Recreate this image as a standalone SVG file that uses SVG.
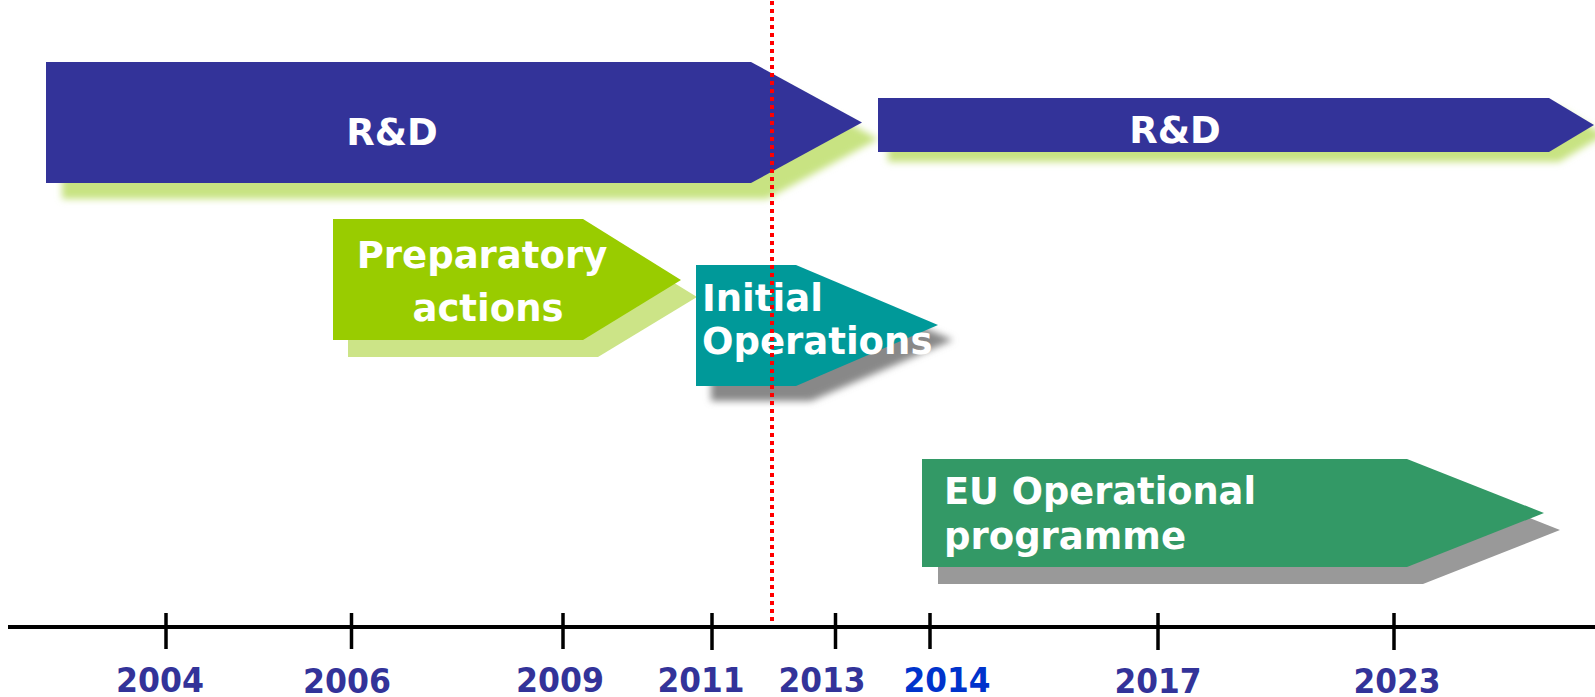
<svg xmlns="http://www.w3.org/2000/svg" width="1595" height="697" viewBox="0 0 1595 697">
<style>
.lbl{font-family:"DejaVu Sans","Verdana",sans-serif;font-weight:bold;fill:#ffffff;font-size:37px}
.yr{font-family:"DejaVu Sans",sans-serif;font-weight:bold;font-stretch:condensed;font-size:33px;fill:#333399;text-anchor:middle}
.tick{stroke:#000;stroke-width:3.5}
</style>
<defs>
<filter id="blur" x="-10%" y="-30%" width="120%" height="160%"><feGaussianBlur stdDeviation="3.5"/></filter>
</defs>
<rect width="1595" height="697" fill="#ffffff"/>
<g id="rd1">
<polygon points="62,78 767,78 878,139 767,199 62,199" fill="#c8e382" filter="url(#blur)"/>
<polygon points="46,62 751,62 862,122.5 751,183 46,183" fill="#333399"/>
<text class="lbl" x="392" y="145" text-anchor="middle">R&amp;D</text>
</g>
<g id="rd2">
<polygon points="888,108 1559,108 1604,135 1559,162 888,162" fill="#c8e382" filter="url(#blur)"/>
<polygon points="878,98 1549,98 1594,125 1549,152 878,152" fill="#333399"/>
<text class="lbl" x="1175" y="143" text-anchor="middle">R&amp;D</text>
</g>
<g id="prep">
<polygon points="348,236 598,236 697,297 598,357 348,357" fill="#cce487"/>
<polygon points="333,219 583,219 681,280 583,340 333,340" fill="#99cc00"/>
<text class="lbl" x="482" y="268" text-anchor="middle">Preparatory</text>
<text class="lbl" x="488" y="321" text-anchor="middle">actions</text>
</g>
<g id="initial">
<polygon points="711,280 811,280 953,340 811,401 711,401" fill="#888888" filter="url(#blur)"/>
<polygon points="696,265 796,265 938,325 796,386 696,386" fill="#009999"/>
<text class="lbl" x="702" y="311">Initial</text>
<text class="lbl" x="702" y="354">Operations</text>
</g>
<g id="euop">
<polygon points="938,476 1423,476 1560,530 1423,584 938,584" fill="#999999"/>
<polygon points="922,459 1407,459 1544,513 1407,567 922,567" fill="#339966"/>
<text class="lbl" x="944" y="504" font-size="36" textLength="312" lengthAdjust="spacingAndGlyphs">EU Operational</text>
<text class="lbl" x="944" y="549" font-size="36" textLength="242" lengthAdjust="spacingAndGlyphs">programme</text>
</g>
<g id="connectors">
<line x1="8" y1="627" x2="1595" y2="627" stroke="#000" stroke-width="4"/>
<line class="tick" x1="166" y1="613" x2="166" y2="649"/>
<line class="tick" x1="351.5" y1="613" x2="351.5" y2="649"/>
<line class="tick" x1="563" y1="613" x2="563" y2="649"/>
<line class="tick" x1="712" y1="613" x2="712" y2="650"/>
<line class="tick" x1="835.5" y1="613" x2="835.5" y2="649"/>
<line class="tick" x1="930" y1="613" x2="930" y2="649"/>
<line class="tick" x1="1158" y1="613" x2="1158" y2="650"/>
<line class="tick" x1="1394" y1="613" x2="1394" y2="650"/>
<line x1="772" y1="0" x2="772" y2="625" stroke="#ff0000" stroke-width="4" stroke-dasharray="4 4" stroke-dashoffset="-1"/>
</g>
<g id="years">
<text class="yr" x="160" y="692" textLength="88" lengthAdjust="spacingAndGlyphs">2004</text>
<text class="yr" x="347" y="693" textLength="88" lengthAdjust="spacingAndGlyphs">2006</text>
<text class="yr" x="560" y="692" textLength="88" lengthAdjust="spacingAndGlyphs">2009</text>
<text class="yr" x="701" y="692" textLength="87" lengthAdjust="spacingAndGlyphs">2011</text>
<text class="yr" x="822" y="692" textLength="87" lengthAdjust="spacingAndGlyphs">2013</text>
<text class="yr" x="947" y="692" textLength="87" lengthAdjust="spacingAndGlyphs" style="fill:#0033cc">2014</text>
<text class="yr" x="1158" y="693" textLength="87" lengthAdjust="spacingAndGlyphs">2017</text>
<text class="yr" x="1397" y="693" textLength="87" lengthAdjust="spacingAndGlyphs">2023</text>
</g>
</svg>
